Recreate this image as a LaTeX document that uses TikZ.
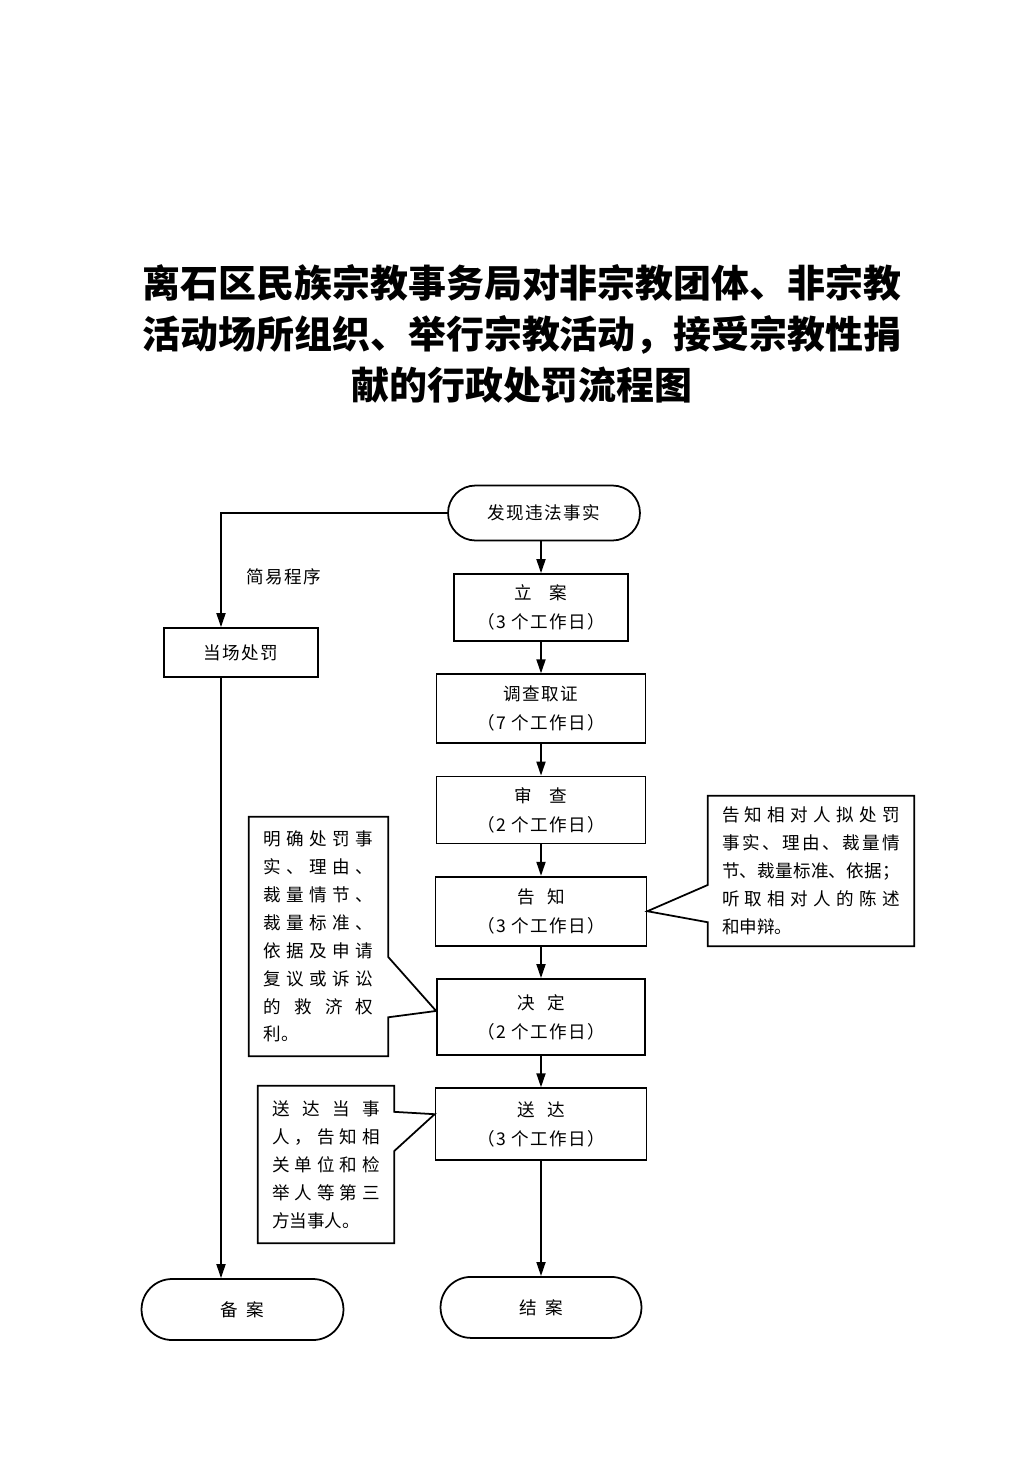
\documentclass[tikz,border=0pt]{standalone}
\usepackage{fontspec}
\newfontfamily\cjk{Noto Sans CJK SC}
\newfontfamily\cjkbox[LetterSpace=8]{Noto Sans CJK SC}
\usetikzlibrary{arrows.meta, shapes.misc, chains, positioning, calc}
% spread the characters of one line over a given width
\makeatletter
\newcommand{\sline}[2]{\makebox[#1][s]{\@tfor\@sch:=#2\do{\@sch\hfill}\unskip}}
\makeatother
\tikzset{%
  >={Triangle[width=1.8mm,length=2.8mm]},
  % Specifications for style of nodes:
  base/.style = {draw, line width=1pt, align=center, inner sep=2pt,
                 font=\cjkbox\fontsize{10}{16.5}\selectfont},
  process/.style = {base, on chain, rectangle, minimum width=4.18cm, minimum height=1.38cm},
  terminal/.style = {base, rounded rectangle, minimum width=4.16cm, minimum height=1.22cm},
  note/.style = {align=left, inner sep=0pt, font=\cjk\fontsize{10}{15.9}\selectfont},
  outline/.style = {draw, line width=1pt},
  norm/.style = {->, draw, black, line width=1pt},
}
\begin{document}
\begin{tikzpicture}[
    x=0.02cm, y=-0.02cm,
    start chain=going below,    % main flow is top-to-bottom
    node distance=6.3mm,        % gap between the boxes
    every join/.style={norm},
]
  \useasboundingbox (0,0) rectangle (1033,1461);

  \node (title) [align=center, font=\cjk\bfseries\fontsize{21.6}{28.9}\selectfont] at (522,334)
    {离石区民族宗教事务局对非宗教团体、非宗教\\活动场所组织、举行宗教活动，接受宗教性捐\\献的行政处罚流程图};

  % main column
  \node (find) [terminal, minimum width=3.98cm, minimum height=1.1cm] at (544,513) {发现违法事实};
  \node (register) [process, minimum width=3.48cm, minimum height=1.34cm] at (541,607.5) {立\quad 案\\（3 个工作日）};
  \node (investigate) [process, join] {调查取证\\（7 个工作日）};
  \node (review) [process, join, minimum height=1.34cm] {审\quad 查\\（2 个工作日）};
  \node (inform) [process, join, minimum width=4.22cm] {告\hspace{0.7em}知\\（3 个工作日）};
  \node (decide) [process, join, minimum width=4.16cm, minimum height=1.52cm] {决\hspace{0.7em}定\\（2 个工作日）};
  \node (deliver) [process, join, minimum width=4.22cm, minimum height=1.44cm] {送\hspace{0.7em}达\\（3 个工作日）};
  \node (close) [terminal, on chain, join, below=2.3cm of deliver] {结\enspace 案};
  \draw [norm] (register.north |- find.south) -- (register.north);

  % simple procedure branch
  \node (onspot) [base, minimum width=3.08cm, minimum height=0.98cm] at (241,652.5) {当场处罚};
  \node (record) [terminal, minimum width=4.18cm] at (242.5,1309.5) {备\enspace 案};
  \node (simple) [font=\cjkbox\fontsize{10}{12}\selectfont] at (284,577) {简易程序};
  \coordinate (bend) at (221,513);
  \draw [norm] (find.west) -- (bend) -- (bend |- onspot.north);
  \draw [norm] (bend |- onspot.south) -- (bend |- record.north);

  % callouts
  \node (noteR) [note, minimum width=4.12cm, minimum height=3cm] at (811,871) {%
    \sline{3.56cm}{告知相对人拟处罚}\\
    \sline{3.56cm}{事实、理由、裁量情}\\
    \sline{3.56cm}{节、裁量标准、依据；}\\
    \sline{3.56cm}{听取相对人的陈述}\\
    和申辩。};
  \draw [outline] (noteR.south west) -- ($(noteR.north west)!0.84!(noteR.south west)$)
    -- (inform.east) -- ($(noteR.north west)!0.593!(noteR.south west)$)
    -- (noteR.north west) -- (noteR.north east) -- (noteR.south east) -- cycle;

  \node (noteL) [note, minimum width=2.78cm, minimum height=4.78cm] at (318.5,936.5) {%
    \sline{2.2cm}{明确处罚事}\\
    \sline{2.2cm}{实、理由、}\\
    \sline{2.2cm}{裁量情节、}\\
    \sline{2.2cm}{裁量标准、}\\
    \sline{2.2cm}{依据及申请}\\
    \sline{2.2cm}{复议或诉讼}\\
    \sline{2.2cm}{的救济权}\\
    利。};
  \draw [outline] (noteL.north west) -- (noteL.north east)
    -- ($(noteL.north east)!0.586!(noteL.south east)$) -- ([yshift=0.12cm]decide.west)
    -- ($(noteL.north east)!0.837!(noteL.south east)$)
    -- (noteL.south east) -- (noteL.south west) -- cycle;

  \node (noteB) [note, minimum width=2.72cm, minimum height=3.14cm] at (326,1164.5) {%
    \sline{2.16cm}{送达当事}\\
    \sline{2.16cm}{人，告知相}\\
    \sline{2.16cm}{关单位和检}\\
    \sline{2.16cm}{举人等第三}\\
    \makebox[2.16cm][l]{方当事人。}};
  \draw [outline] (noteB.north west) -- (noteB.north east)
    -- ($(noteB.north east)!0.166!(noteB.south east)$) -- ([yshift=0.2cm]deliver.west)
    -- ($(noteB.north east)!0.414!(noteB.south east)$)
    -- (noteB.south east) -- (noteB.south west) -- cycle;
\end{tikzpicture}
\end{document}
